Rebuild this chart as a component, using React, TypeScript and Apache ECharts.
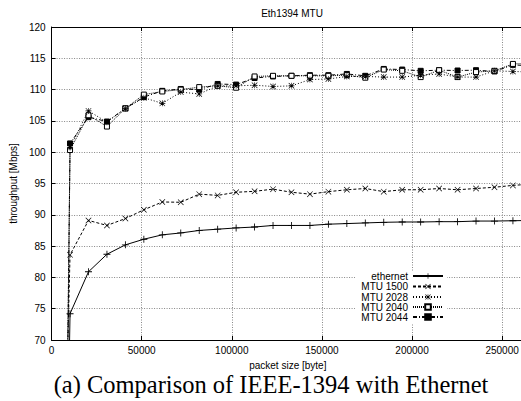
import React, { useEffect, useRef } from "react";
import * as echarts from "echarts";

const packetSizes = [
  8192, 10240, 20480, 30720, 40960, 51200, 61440, 71680, 81920, 92160, 102400,
  112640, 122880, 133120, 143360, 153600, 163840, 174080, 184320, 194560, 204800,
  215040, 225280, 235520, 245760, 256000, 266240,
];
const ethernet = [
  40, 74.2, 80.9, 83.7, 85.2, 86.1, 86.8, 87.1, 87.5, 87.7, 87.9, 88.05, 88.3,
  88.3, 88.3, 88.5, 88.6, 88.7, 88.8, 88.85, 88.85, 88.9, 88.9, 89.0, 89.0, 89.05, 89.1,
];
const mtu1500 = [
  60, 83.6, 89.1, 88.3, 89.4, 90.8, 92.05, 92.0, 93.3, 93.1, 93.6, 93.75, 94.1,
  93.6, 93.3, 93.7, 94.0, 94.2, 93.7, 94.0, 94.0, 94.2, 94.0, 94.2, 94.4, 94.7, 94.9,
];
const mtu2028 = [
  50, 100.8, 106.6, 104.8, 107.0, 108.7, 107.8, 109.6, 109.3, 110.6, 110.6, 110.7,
  110.5, 110.6, 111.6, 111.7, 112.1, 112.1, 112.0, 112.0, 112.3, 112.5, 112.0,
  112.0, 113.0, 112.9, 112.8,
];
const mtu2040 = [
  50, 100.35, 105.9, 104.1, 107.0, 109.2, 109.7, 110.0, 110.4, 110.6, 110.3, 112.1,
  112.2, 112.2, 112.2, 112.2, 112.3, 111.9, 113.2, 113.0, 112.0, 113.1, 112.0,
  112.8, 113.0, 114.1, 114.2,
];
const mtu2044 = [
  45, 101.4, 105.6, 104.9, 107.0, 108.8, 109.8, 110.1, 110.0, 110.9, 110.8, 111.85,
  112.1, 112.2, 112.3, 112.3, 112.5, 112.2, 113.3, 113.2, 113.0, 113.1, 113.05,
  113.1, 112.9, 113.95, 113.8,
];
const seriesNames = ["ethernet", "MTU 1500", "MTU 2028", "MTU 2040", "MTU 2044"];
const titleText = "Eth1394 MTU";
const xAxisName = "packet size [byte]";
const yAxisName = "throughput [Mbps]";
const captionText = "(a) Comparison of IEEE-1394 with Ethernet";

const FONT = "'Liberation Sans', Arial, Helvetica, sans-serif";
const PLUS = "path://M4.4,0H5.6V10H4.4Z M0,4.4H10V5.6H0Z";
const CROSS = "path://M0,0.8L0.8,0L10,9.2L9.2,10Z M9.2,0L10,0.8L0.8,10L0,9.2Z";
const STAR =
  "path://M4.5,0H5.5V10H4.5Z M0,4.5H10V5.5H0Z M0,0.8L0.8,0L10,9.2L9.2,10Z M9.2,0L10,0.8L0.8,10L0,9.2Z";

export default function App() {
  const ref = useRef<HTMLDivElement>(null);
  useEffect(() => {
    if (!ref.current) return;
    const chart = echarts.init(ref.current, undefined, { renderer: "svg" });
    const pairs = (vals: number[]) => packetSizes.map((x, i) => [x, vals[i]]);
    const styles = [
      { data: ethernet, symbol: PLUS, size: 7, type: "solid" as any, fill: "#000" },
      { data: mtu1500, symbol: CROSS, size: 6, type: [3, 2], fill: "#000" },
      { data: mtu2028, symbol: STAR, size: 6, type: [1, 2], fill: "#000" },
      { data: mtu2040, symbol: "rect", size: 5, type: [1, 1], fill: "#fff" },
      { data: mtu2044, symbol: "rect", size: 5, type: [4, 2, 1, 2], fill: "#000" },
    ];
    const series = styles.map((s, i) => ({
      name: seriesNames[i],
      type: "line",
      data: pairs(s.data),
      symbol: s.symbol,
      symbolSize: s.size,
      showAllSymbol: true,
      clip: true,
      lineStyle: { color: "#000", width: 1, type: s.type },
      itemStyle: {
        color: s.fill,
        borderColor: "#000",
        borderWidth: s.symbol === "rect" ? 1 : 0,
      },
      z: 10 - i,
    }));
    const rowCenters = [277, 287.5, 298, 308, 318];
    const legends = seriesNames.map((n, i) => ({
      data: [n],
      right: 80,
      top: rowCenters[i] - 6,
      orient: "vertical",
      align: "right",
      itemWidth: 30,
      itemHeight: 7,
      padding: 0,
      selectedMode: false,
      textStyle: { fontSize: 10, fontFamily: FONT, color: "#000" },
    }));
    const gridLine = { show: true, lineStyle: { color: "#888", width: 1, type: [1, 1.5] } };
    chart.setOption({
      animation: false,
      backgroundColor: "#fff",
      title: {
        text: titleText,
        left: 287,
        top: 3,
        textAlign: "center",
        textStyle: { fontSize: 10, fontWeight: "normal", fontFamily: FONT, color: "#000" },
      },
      legend: legends,
      grid: { left: 50, top: 27, right: 0, bottom: 61 },
      xAxis: [
        {
          type: "value",
          min: 0,
          max: 262144,
          interval: 50000,
          name: xAxisName,
          nameLocation: "middle",
          nameGap: 15,
          nameTextStyle: { fontSize: 10, fontFamily: FONT, color: "#000", lineHeight: 11 },
          axisLine: { show: true, lineStyle: { color: "#000", width: 1 } },
          axisTick: { show: true, inside: true, length: 4, lineStyle: { color: "#000" } },
          axisLabel: {
            fontSize: 10,
            fontFamily: FONT,
            color: "#000",
            margin: 5,
            showMaxLabel: false,
            formatter: (v: number) => String(v),
          },
          splitLine: gridLine,
        },
        {
          type: "value",
          position: "top",
          min: 0,
          max: 262144,
          interval: 50000,
          axisLine: { show: true, lineStyle: { color: "#000", width: 1 } },
          axisTick: { show: true, inside: true, length: 4, lineStyle: { color: "#000" } },
          axisLabel: { show: false },
          splitLine: { show: false },
        },
      ],
      yAxis: {
        type: "value",
        min: 70,
        max: 120,
        interval: 5,
        name: yAxisName,
        nameLocation: "middle",
        nameGap: 33,
        nameTextStyle: { fontSize: 10, fontFamily: FONT, color: "#000" },
        axisLine: { show: true, lineStyle: { color: "#000", width: 1 } },
        axisTick: { show: true, inside: true, length: 4, lineStyle: { color: "#000" } },
        axisLabel: { fontSize: 10, fontFamily: FONT, color: "#000", margin: 6 },
        splitLine: gridLine,
      },
      graphic: [
        {
          type: "rect",
          z: 1,
          shape: { x: 355, y: 271, width: 92, height: 52 },
          style: { fill: "#fff" },
        },
        {
          type: "text",
          x: 271,
          y: 384,
          z: 5,
          style: {
            text: captionText,
            font: "24.5px 'Liberation Serif', 'Times New Roman', serif",
            lineHeight: 20,
            fill: "#000",
            textAlign: "center",
            textVerticalAlign: "middle",
          },
        },
      ],
      series,
    });
    return () => chart.dispose();
  }, []);
  return (
    <div
      style={{
        position: "fixed",
        left: 0,
        top: 0,
        width: 521,
        height: 401,
        overflow: "hidden",
        background: "#fff",
      }}
    >
      <div ref={ref} style={{ width: 524, height: 401 }} />
    </div>
  );
}
